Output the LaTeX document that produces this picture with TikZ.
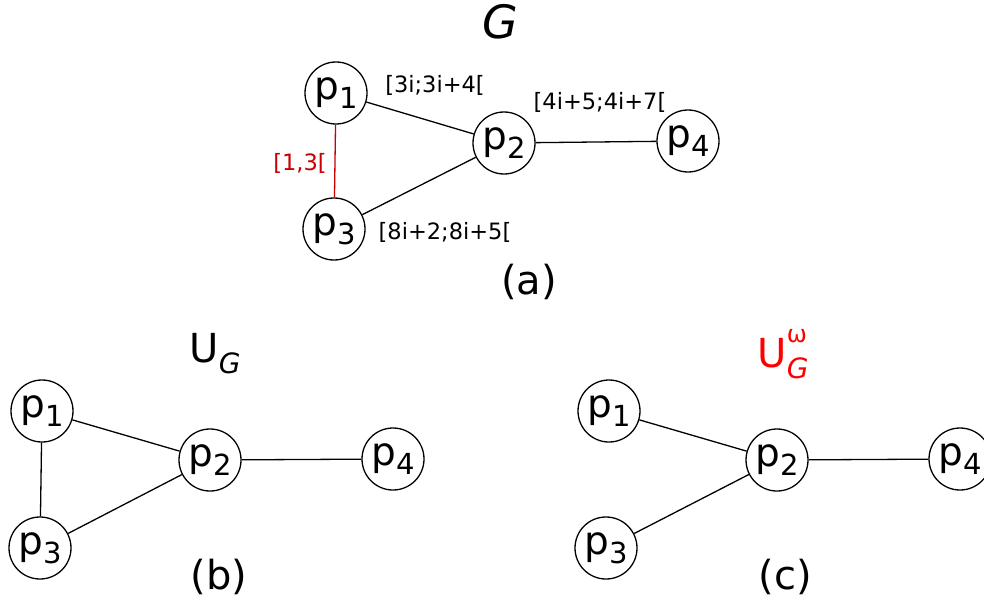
\documentclass[tikz,border=0pt]{standalone}
\usepackage{fontspec}
\setmainfont{DejaVu Sans}
\usepackage{tikz}
\definecolor{darkred}{RGB}{200,0,0}

\newcommand{\pname}[1]{p\raisebox{-0.22em}{\fontsize{29}{30}\selectfont #1}}
\newcommand{\gsub}{\raisebox{-0.28em}{\fontsize{28}{30}\selectfont\itshape G}}

\tikzset{
  pnode/.style={circle, draw, line width=1.3pt, minimum size=62pt, inner sep=0pt, font=\fontsize{39}{42}\selectfont},
  intlabel/.style={font=\fontsize{22.5}{25}\selectfont},
  caption/.style={font=\fontsize{40}{44}\selectfont},
  link/.style={line width=1.3pt}
}

\begin{document}
\begin{tikzpicture}[x=1pt, y=-1pt]

\useasboundingbox (0,0) rectangle (984,604);

% (a)
\node[caption, font=\fontsize{46}{50}\selectfont] (gname) at (500,22) {\textit{G}};
\node[pnode] (a1) at (336,93) {\pname{1}};
\node[pnode] (a2) at (504,143) {\pname{2}};
\node[pnode] (a3) at (334,229) {\pname{3}};
\node[pnode] (a4) at (688,141) {\pname{4}};
\draw[link] (a1) -- (a2);
\draw[link] (a3) -- (a2);
\draw[link] (a2) -- (a4);
\draw[link, darkred] (a1) -- (a3);
\node[intlabel] (l12) at (435,85) {[3i;3i+4[};
\node[intlabel] (l24) at (600,102) {[4i+5;4i+7[};
\node[intlabel, darkred] (l13) at (300,163) {[1,3[};
\node[intlabel] (l23) at (445,232) {[8i+2;8i+5[};
\node[caption] (capa) at (529,282) {(a)};

% (b)
\node[caption] (ug) at (215,354) {U\gsub};
\node[pnode] (b1) at (42,411) {\pname{1}};
\node[pnode] (b2) at (210,460) {\pname{2}};
\node[pnode] (b3) at (40,548) {\pname{3}};
\node[pnode] (b4) at (393,459) {\pname{4}};
\draw[link] (b1) -- (b2);
\draw[link] (b3) -- (b2);
\draw[link] (b2) -- (b4);
\draw[link] (b1) -- (b3);
\node[caption] (capb) at (219,577) {(b)};

% (c)
\node[caption, red] (ugw) at (783,354) {U\rlap{\raisebox{0.62em}{\fontsize{24}{26}\selectfont ω}}\gsub};
\node[pnode] (c1) at (609,411) {\pname{1}};
\node[pnode] (c2) at (777,460) {\pname{2}};
\node[pnode] (c3) at (606,548) {\pname{3}};
\node[pnode] (c4) at (960,459) {\pname{4}};
\draw[link] (c1) -- (c2);
\draw[link] (c3) -- (c2);
\draw[link] (c2) -- (c4);
\node[caption] (capc) at (785,577) {(c)};

\end{tikzpicture}
\end{document}
